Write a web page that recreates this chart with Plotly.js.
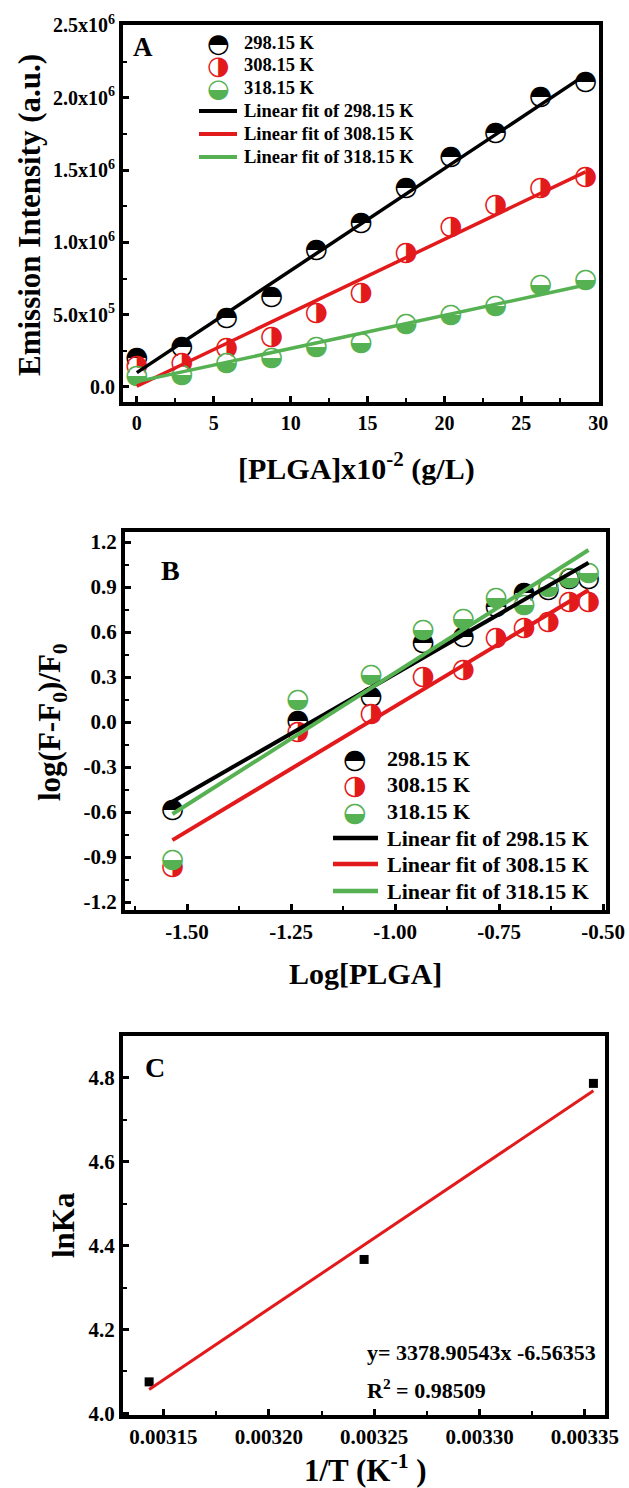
<!DOCTYPE html>
<html>
<head>
<meta charset="utf-8">
<script src="https://cdn.plot.ly/plotly-3.0.1.min.js"></script>
<style>
  html, body { margin: 0; padding: 0; background: #fff; }
  #chart { width: 629px; height: 1488px; }
</style>
</head>
<body>
<div id="chart"></div>
<script>
// ---------- Panel A: emission intensity vs PLGA concentration ----------
const concA = [0, 2.92, 5.83, 8.75, 11.67, 14.58, 17.5, 20.42, 23.33, 26.25, 29.17];
const emis298 = [0.200e6, 0.277e6, 0.477e6, 0.620e6, 0.947e6, 1.134e6, 1.376e6, 1.590e6, 1.757e6, 2.006e6, 2.110e6];
const emis308 = [0.140e6, 0.166e6, 0.270e6, 0.345e6, 0.510e6, 0.650e6, 0.925e6, 1.107e6, 1.259e6, 1.376e6, 1.452e6];
const emis318 = [0.076e6, 0.083e6, 0.166e6, 0.200e6, 0.277e6, 0.304e6, 0.435e6, 0.498e6, 0.560e6, 0.705e6, 0.740e6];
const fitXA = [0, 29.17];
const fitA298 = [0.099e6, 2.158e6];
const fitA308 = [0.005e6, 1.487e6];
const fitA318 = [0.037e6, 0.705e6];
const xTicksA = [0, 5, 10, 15, 20, 25, 30];
const yTickValsA = [0, 0.5e6, 1.0e6, 1.5e6, 2.0e6, 2.5e6];
const yTickTextA = ['0.0', '5.0x10<sup>5</sup>', '1.0x10<sup>6</sup>', '1.5x10<sup>6</sup>', '2.0x10<sup>6</sup>', '2.5x10<sup>6</sup>'];

// ---------- Panel B: double-log plot ----------
const logC = [-1.535, -1.234, -1.058, -0.933, -0.836, -0.757, -0.690, -0.632, -0.581, -0.535];
const logF298 = [-0.587, 0.007, 0.167, 0.527, 0.567, 0.767, 0.860, 0.880, 0.950, 0.953];
const logF308 = [-0.970, -0.065, 0.053, 0.300, 0.347, 0.560, 0.627, 0.667, 0.800, 0.800];
const logF318 = [-0.920, 0.147, 0.313, 0.613, 0.687, 0.827, 0.780, 0.900, 0.960, 0.993];
const fitXB = [-1.535, -0.535];
const fitB298 = [-0.531, 1.062];
const fitB308 = [-0.787, 0.880];
const fitB318 = [-0.613, 1.147];
const xTickValsB = [-1.5, -1.25, -1.0, -0.75, -0.5];
const xTickTextB = ['-1.50', '-1.25', '-1.00', '-0.75', '-0.50'];
const yTickValsB = [-1.2, -0.9, -0.6, -0.3, 0, 0.3, 0.6, 0.9, 1.2];
const yTickTextB = ['-1.2', '-0.9', '-0.6', '-0.3', '0.0', '0.3', '0.6', '0.9', '1.2'];

// ---------- Panel C: van't Hoff plot ----------
const invT = [0.0031432, 0.0032452, 0.0033540];
const lnKa = [4.075, 4.367, 4.787];
const vhSlope = 3378.90543;
const vhIntercept = -6.56353;
const vhR2 = '0.98509';
const xTickValsC = [0.00315, 0.00320, 0.00325, 0.00330, 0.00335];
const xTickTextC = ['0.00315', '0.00320', '0.00325', '0.00330', '0.00335'];
const yTickValsC = [4.0, 4.2, 4.4, 4.6, 4.8];
const yTickTextC = ['4.0', '4.2', '4.4', '4.6', '4.8'];

const seriesNames = ['298.15 K', '308.15 K', '318.15 K'];
const fitNames = ['Linear fit of 298.15 K', 'Linear fit of 308.15 K', 'Linear fit of 318.15 K'];

// ---------- styling ----------
const W = 629, H = 1488;
const BLACK = '#000000', RED = '#e31a1c', GREEN = '#56b152';
const colors = [BLACK, RED, GREEN];
// half-filled circles: top filled, right filled, bottom filled
const glyphs = ['\u25D3', '\u25D1', '\u25D2'];
const SERIF = 'Liberation Serif, Times New Roman, serif';
const GLYPH_FONT = 'DejaVu Sans, sans-serif';

const fx = v => v / W;
const fy = v => 1 - v / H;

function halfCircles(x, y, k, xa, ya, gsize) {
  return {
    x: x, y: y, xaxis: xa, yaxis: ya, type: 'scatter', mode: 'markers+text',
    marker: { symbol: 'circle', size: gsize * 0.62, color: '#ffffff', line: { width: 0 } },
    text: x.map(() => glyphs[k]),
    textposition: 'middle center',
    textfont: { family: GLYPH_FONT, size: gsize, color: colors[k] },
    cliponaxis: false, hoverinfo: 'x+y', showlegend: false
  };
}
function fitLine(x, y, color, width, xa, ya) {
  return {
    x: x, y: y, xaxis: xa, yaxis: ya, type: 'scatter', mode: 'lines',
    line: { color: color, width: width }, hoverinfo: 'skip', showlegend: false
  };
}

const traces = [];
// Panel A
[emis298, emis308, emis318].forEach((ys, k) => traces.push(halfCircles(concA, ys, k, 'x', 'y', 27)));
[fitA298, fitA308, fitA318].forEach((ys, k) => traces.push(fitLine(fitXA, ys, colors[k], 3.5, 'x', 'y')));
// Panel B
[logF298, logF308, logF318].forEach((ys, k) => traces.push(halfCircles(logC, ys, k, 'x2', 'y2', 27)));
[fitB298, fitB308, fitB318].forEach((ys, k) => traces.push(fitLine(fitXB, ys, colors[k], 4, 'x2', 'y2')));
// Panel C
traces.push({
  x: invT, y: lnKa, xaxis: 'x3', yaxis: 'y3', type: 'scatter', mode: 'markers',
  marker: { symbol: 'square', size: 9, color: BLACK }, showlegend: false
});
const fitXC = [invT[0], invT[invT.length - 1]];
traces.push(fitLine(fitXC, fitXC.map(v => vhSlope * v + vhIntercept), RED, 3, 'x3', 'y3'));

function axis(domain, range, tickvals, ticktext, minorTick0, minorDtick, fontSize, anchor) {
  return {
    domain: domain, range: range, anchor: anchor,
    tickmode: 'array', tickvals: tickvals, ticktext: ticktext,
    showline: true, linewidth: 4, linecolor: BLACK, mirror: true,
    ticks: 'inside', ticklen: 6, tickwidth: 3, tickcolor: BLACK,
    minor: { tickmode: 'linear', tick0: minorTick0, dtick: minorDtick, ticks: 'inside', ticklen: 4, tickwidth: 2, tickcolor: BLACK, showgrid: false },
    showgrid: false, zeroline: false,
    tickfont: { family: SERIF, size: fontSize, color: BLACK, weight: 'bold' }
  };
}

const layout = {
  width: W, height: H, margin: { l: 0, r: 0, t: 0, b: 0 },
  paper_bgcolor: '#ffffff', plot_bgcolor: '#ffffff', showlegend: false,
  xaxis: axis([fx(123), fx(599)], [-0.9, 30.05], xTicksA, xTicksA.map(String), 0, 2.5, 20, 'y'),
  yaxis: axis([fy(402), fy(25)], [-0.104e6, 2.503e6], yTickValsA, yTickTextA, 0, 0.25e6, 20, 'x'),
  xaxis2: axis([fx(125), fx(606)], [-1.649, -0.493], xTickValsB, xTickTextB, -1.5, 0.125, 21, 'y2'),
  yaxis2: axis([fy(910), fy(532)], [-1.253, 1.267], yTickValsB, yTickTextB, 0, 0.15, 21, 'x2'),
  xaxis3: axis([fx(123), fx(605)], [0.0031308, 0.0033595], xTickValsC, xTickTextC, 0.00315, 0.000025, 21, 'y3'),
  yaxis3: axis([fy(1415), fy(1036)], [3.996, 4.9], yTickValsC, yTickTextC, 4.0, 0.1, 21, 'x3'),
  annotations: [],
  shapes: []
};

function label(text, x, y, size, extra) {
  return Object.assign({
    xref: 'paper', yref: 'paper', x: fx(x), y: fy(y), text: text, showarrow: false,
    xanchor: 'center', yanchor: 'middle',
    font: { family: SERIF, size: size, color: BLACK, weight: 'bold' }
  }, extra || {});
}

const A = layout.annotations;
// panel letters
A.push(label('A', 143, 47, 27));
A.push(label('B', 170, 570, 28));
A.push(label('C', 155, 1067, 28));
// axis titles
A.push(label('Emission Intensity (a.u.)', 29, 215, 31, { textangle: -90 }));
A.push(label('[PLGA]x10<sup>-2</sup> (g/L)', 356, 466, 30));
A.push(label('log(F-F<sub>0</sub>)/F<sub>0</sub>', 52, 722, 31, { textangle: -90 }));
A.push(label('Log[PLGA]', 365, 973, 30));
A.push(label('lnKa', 63, 1225, 31, { textangle: -90 }));
A.push(label('1/T (K<sup>-1</sup> )', 365, 1468, 31));
// van't Hoff fit statistics
A.push(label('y= ' + vhSlope.toFixed(5) + 'x ' + vhIntercept.toFixed(5), 365, 1352, 22, { xanchor: 'left' }));
A.push(label('R<sup>2</sup> = ' + vhR2, 365, 1389, 22, { xanchor: 'left' }));

// legend blocks
function legendBlock(markerX, textX, lineX0, lineX1, rows, fontSize, glyphSize, lineW) {
  seriesNames.forEach((name, k) => {
    A.push({
      xref: 'paper', yref: 'paper', x: fx(markerX), y: fy(rows[k]), text: glyphs[k], showarrow: false,
      xanchor: 'center', yanchor: 'middle', font: { family: GLYPH_FONT, size: glyphSize, color: colors[k] }
    });
    A.push(label(name, textX, rows[k], fontSize, { xanchor: 'left' }));
  });
  fitNames.forEach((name, k) => {
    const r = rows[k + 3];
    layout.shapes.push({
      type: 'line', xref: 'paper', yref: 'paper', x0: fx(lineX0), x1: fx(lineX1), y0: fy(r), y1: fy(r),
      line: { color: colors[k], width: lineW }
    });
    A.push(label(name, textX, r, fontSize, { xanchor: 'left' }));
  });
}
legendBlock(218, 242, 199, 237, [43, 65, 88, 111, 134, 157], 18.5, 26, 4);
legendBlock(355, 385, 333, 378, [758, 784, 811, 838, 864, 891], 22, 27, 4.5);

Plotly.newPlot('chart', traces, layout, { displayModeBar: false, staticPlot: true });
</script>
</body>
</html>
